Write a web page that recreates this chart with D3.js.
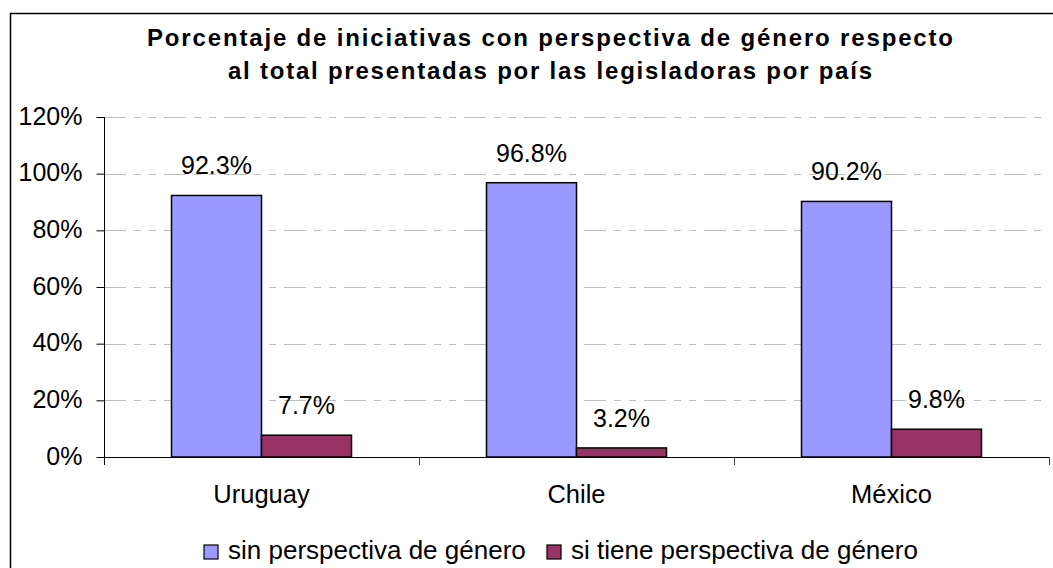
<!DOCTYPE html>
<html>
<head>
<meta charset="utf-8">
<script src="https://cdn.jsdelivr.net/npm/d3@7"></script>
<style>
  body { margin: 0; background: #fff; }
  svg { display: block; font-family: "Liberation Sans", Arial, sans-serif; }
</style>
</head>
<body>
<div id="chart"></div>
<script>
// chart data
var categories = ['Uruguay', 'Chile', 'México'];
var seriesNames = ['sin perspectiva de género', 'si tiene perspectiva de género'];
var sinPerspectiva = [0.923, 0.968, 0.902];
var siPerspectiva = [0.077, 0.032, 0.098];
var yTicks = [0, 0.2, 0.4, 0.6, 0.8, 1.0, 1.2];
var titleLines = ['Porcentaje de iniciativas con perspectiva de género respecto',
                  'al total presentadas por las legisladoras por país'];

var colors = ['#9999ff', '#993366'];

var W = 1053, H = 568;
var plot = {left: 104, right: 1049, top: 117, bottom: 457};

var svg = d3.select('#chart').append('svg')
    .attr('width', W)
    .attr('height', H);

svg.append('rect')
    .attr('width', W).attr('height', H)
    .attr('fill', '#fff');

// outer chart border (right and bottom edges run off the picture)
svg.append('rect')
    .attr('x', 10.5).attr('y', 13.5)
    .attr('width', 1100).attr('height', 700)
    .attr('fill', 'none')
    .attr('stroke', '#000')
    .attr('stroke-width', 1.5);

// title
var titleWidths = [806, 644];
svg.selectAll('text.title')
    .data(titleLines)
    .enter().append('text')
    .attr('class', 'title')
    .attr('x', 550)
    .attr('y', function (d, i) { return 46 + i * 33; })
    .attr('text-anchor', 'middle')
    .attr('font-size', 24)
    .attr('font-weight', 'bold')
    .attr('textLength', function (d, i) { return titleWidths[i]; })
    .attr('lengthAdjust', 'spacing')
    .text(function (d) { return d; });

var y = d3.scaleLinear()
    .domain([0, 1.2])
    .range([plot.bottom, plot.top]);

var x = d3.scaleBand()
    .domain(categories)
    .range([plot.left, plot.right]);

var xSub = d3.scaleBand()
    .domain(seriesNames)
    .range([0, x.bandwidth()])
    .paddingOuter(0.75);

// dashed gridlines
svg.append('g')
    .selectAll('line')
    .data(yTicks.filter(function (t) { return t > 0; }))
    .enter().append('line')
    .attr('x1', plot.left).attr('x2', plot.right)
    .attr('y1', function (d) { return Math.round(y(d)) + 0.5; })
    .attr('y2', function (d) { return Math.round(y(d)) + 0.5; })
    .attr('stroke', '#bdbdbd')
    .attr('stroke-width', 1)
    .attr('stroke-dasharray', '22,8,7,8,7,8');

// y axis
var yAxis = d3.axisLeft(y)
    .tickValues(yTicks)
    .tickSize(8)
    .tickPadding(14)
    .tickFormat(d3.format('.0%'));

var gy = svg.append('g')
    .attr('transform', 'translate(' + (plot.left + 0.5) + ',0)')
    .call(yAxis);
gy.select('.domain').remove();
gy.selectAll('.tick line').attr('stroke', '#000');
gy.selectAll('.tick text')
    .attr('font-size', 25)
    .attr('font-family', '"Liberation Sans", Arial, sans-serif')
    .attr('fill', '#000')
    .attr('dy', '0.28em');

svg.append('line')
    .attr('x1', plot.left + 0.5).attr('x2', plot.left + 0.5)
    .attr('y1', plot.top).attr('y2', plot.bottom + 8)
    .attr('stroke', '#000');

// bars
var series = [sinPerspectiva, siPerspectiva];
var groups = svg.append('g')
    .selectAll('g')
    .data(categories)
    .enter().append('g')
    .attr('transform', function (d) { return 'translate(' + x(d) + ',0)'; });

groups.selectAll('rect')
    .data(function (d, i) {
        return seriesNames.map(function (s, j) { return {s: s, j: j, v: series[j][i]}; });
    })
    .enter().append('rect')
    .attr('x', function (d) { return xSub(d.s); })
    .attr('y', function (d) { return y(d.v); })
    .attr('width', xSub.bandwidth())
    .attr('height', function (d) { return y(0) - y(d.v); })
    .attr('fill', function (d) { return colors[d.j]; })
    .attr('stroke', '#000')
    .attr('stroke-width', 1.5);

groups.selectAll('text')
    .data(function (d, i) {
        return seriesNames.map(function (s, j) { return {s: s, j: j, v: series[j][i]}; });
    })
    .enter().append('text')
    .attr('x', function (d) { return xSub(d.s) + xSub.bandwidth() / 2; })
    .attr('y', function (d) { return y(d.v) - 21; })
    .attr('text-anchor', 'middle')
    .attr('font-size', 25)
    .text(function (d) { return d3.format('.1%')(d.v); });

// x axis
svg.append('line')
    .attr('x1', plot.left).attr('x2', plot.right)
    .attr('y1', plot.bottom + 0.5).attr('y2', plot.bottom + 0.5)
    .attr('stroke', '#000');

var bounds = categories.map(function (c) { return x(c); }).concat([plot.right]);
svg.append('g')
    .selectAll('line')
    .data(bounds.slice(1))
    .enter().append('line')
    .attr('x1', function (d) { return Math.round(d) + 0.5; })
    .attr('x2', function (d) { return Math.round(d) + 0.5; })
    .attr('y1', plot.bottom).attr('y2', plot.bottom + 8)
    .attr('stroke', '#444');

svg.append('g')
    .selectAll('text')
    .data(categories)
    .enter().append('text')
    .attr('x', function (d) { return x(d) + x.bandwidth() / 2; })
    .attr('y', 503)
    .attr('text-anchor', 'middle')
    .attr('font-size', 25.5)
    .text(function (d) { return d; });

// legend
var legendX = [204, 547];
var legend = svg.append('g')
    .selectAll('g')
    .data(seriesNames)
    .enter().append('g')
    .attr('transform', function (d, i) { return 'translate(' + legendX[i] + ',545)'; });

legend.append('rect')
    .attr('width', 14).attr('height', 14)
    .attr('fill', function (d, i) { return colors[i]; })
    .attr('stroke', '#000')
    .attr('stroke-width', 1.2);

legend.append('text')
    .attr('x', 24)
    .attr('y', 14)
    .attr('font-size', 26)
    .text(function (d) { return d; });
</script>
</body>
</html>
